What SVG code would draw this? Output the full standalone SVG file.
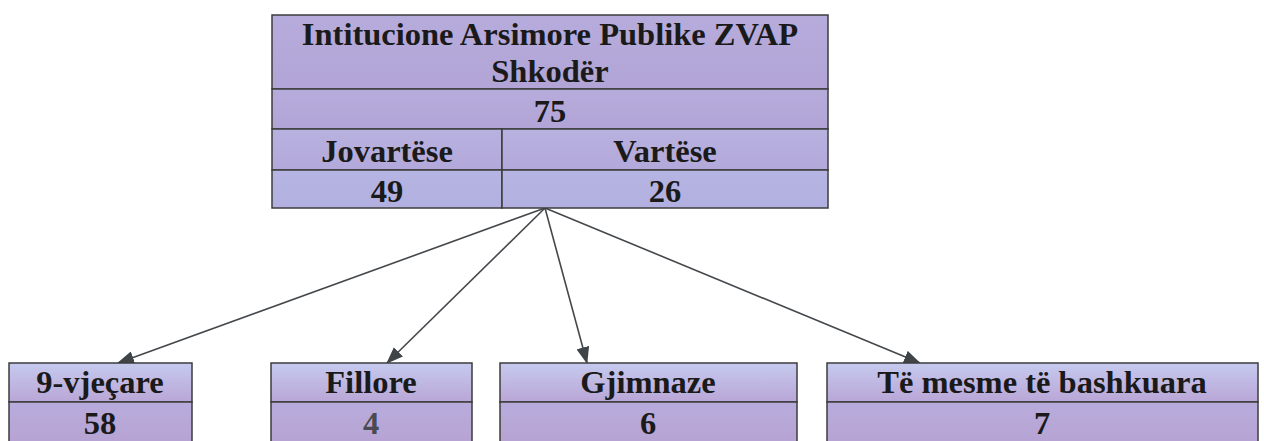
<svg xmlns="http://www.w3.org/2000/svg" width="1264" height="441" viewBox="0 0 1264 441">
<defs>
<linearGradient id="gTop" x1="0" y1="0" x2="0" y2="1">
<stop offset="0" stop-color="#b6acdc"/>
<stop offset="1" stop-color="#b2a4d6"/>
</linearGradient>
<linearGradient id="gMid" x1="0" y1="0" x2="0" y2="1">
<stop offset="0" stop-color="#b8b2e0"/>
<stop offset="1" stop-color="#b3a8da"/>
</linearGradient>
<linearGradient id="gLow" x1="0" y1="0" x2="0" y2="1">
<stop offset="0" stop-color="#b6b4e2"/>
<stop offset="1" stop-color="#b2b0e0"/>
</linearGradient>
<linearGradient id="gHead" x1="0" y1="0" x2="0" y2="1">
<stop offset="0" stop-color="#c6caef"/>
<stop offset="1" stop-color="#b9a6d6"/>
</linearGradient>
<linearGradient id="gNum" x1="0" y1="0" x2="0" y2="1">
<stop offset="0" stop-color="#b8acdc"/>
<stop offset="1" stop-color="#b6a2d2"/>
</linearGradient>
<marker id="arr" markerUnits="userSpaceOnUse" markerWidth="17" markerHeight="13" viewBox="0 0 17 13" refX="16" refY="6.5" orient="auto">
<path d="M0,0 L17,6.5 L0,13 Z" fill="#3f4448"/>
</marker>
</defs>
<style>
.cell{stroke:#3c3c3c;stroke-width:1.5}
.t{font-family:"Liberation Serif","Times New Roman",serif;font-weight:bold;font-size:32.5px;fill:#1a1a1a;text-anchor:middle}
.c{stroke:#44484c;stroke-width:1.6;fill:none}
</style>
<rect width="1264" height="441" fill="#ffffff"/>
<g id="connectors">
<line class="c" x1="545" y1="208" x2="118" y2="363" marker-end="url(#arr)"/>
<line class="c" x1="545" y1="208" x2="387" y2="363" marker-end="url(#arr)"/>
<line class="c" x1="545" y1="208" x2="587" y2="363" marker-end="url(#arr)"/>
<line class="c" x1="545" y1="208" x2="920" y2="363" marker-end="url(#arr)"/>
</g>
<g id="root">
<rect class="cell" x="272" y="15" width="556" height="74" fill="url(#gTop)"/>
<rect class="cell" x="272" y="89" width="556" height="40" fill="url(#gTop)"/>
<rect class="cell" x="272" y="129" width="230" height="41" fill="url(#gMid)"/>
<rect class="cell" x="502" y="129" width="326" height="41" fill="url(#gMid)"/>
<rect class="cell" x="272" y="170" width="230" height="38" fill="url(#gLow)"/>
<rect class="cell" x="502" y="170" width="326" height="38" fill="url(#gLow)"/>
<text class="t" x="550" y="45">Intitucione Arsimore Publike ZVAP</text>
<text class="t" x="550" y="82">Shkodër</text>
<text class="t" x="550" y="122">75</text>
<text class="t" x="387" y="162">Jovartëse</text>
<text class="t" x="665" y="162">Vartëse</text>
<text class="t" x="387" y="202">49</text>
<text class="t" x="665" y="202">26</text>
</g>
<g id="n9vjecare">
<rect class="cell" x="9" y="363" width="183" height="39" fill="url(#gHead)"/>
<rect class="cell" x="9" y="402" width="183" height="45" fill="url(#gNum)"/>
<text class="t" x="100" y="393">9-vjeçare</text>
<text class="t" x="100" y="434">58</text>
</g>
<g id="nFillore">
<rect class="cell" x="271" y="363" width="201" height="39" fill="url(#gHead)"/>
<rect class="cell" x="271" y="402" width="201" height="45" fill="url(#gNum)"/>
<text class="t" x="371" y="393">Fillore</text>
<text class="t" x="371" y="434" style="fill:#4a4a50">4</text>
</g>
<g id="nGjimnaze">
<rect class="cell" x="500" y="363" width="297" height="39" fill="url(#gHead)"/>
<rect class="cell" x="500" y="402" width="297" height="45" fill="url(#gNum)"/>
<text class="t" x="648" y="393">Gjimnaze</text>
<text class="t" x="648" y="434">6</text>
</g>
<g id="nTeMesme">
<rect class="cell" x="827" y="363" width="431" height="39" fill="url(#gHead)"/>
<rect class="cell" x="827" y="402" width="431" height="45" fill="url(#gNum)"/>
<text class="t" x="1042" y="393">Të mesme të bashkuara</text>
<text class="t" x="1042" y="434">7</text>
</g>
</svg>
